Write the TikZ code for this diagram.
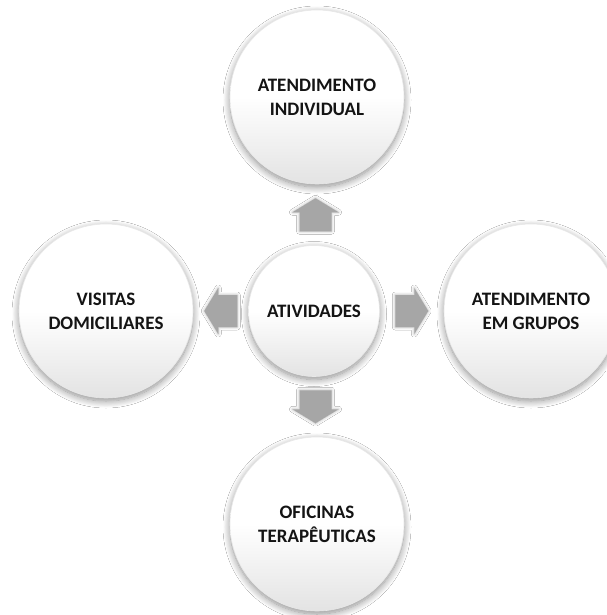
\documentclass[tikz,border=0pt]{standalone}
\usepackage{fontspec}
\setmainfont{Carlito}
\usetikzlibrary{calc,shadows.blur}

\tikzset{
  bubble/.style={
    circle, draw=black!9, line width=0.6pt,
    top color=white, bottom color=black!11, middle color=white,
    shading angle=0,
    blur shadow={shadow blur radius=7pt, shadow xshift=0pt,
                 shadow yshift=-3pt, shadow opacity=45, shadow blur steps=12},
    align=center, text=black!92,
    font=\fontsize{19}{24}\selectfont\bfseries,
    inner sep=0pt
  },
  hub/.style={bubble, minimum size=131pt},
  leaf/.style={bubble, minimum size=174pt},
  arrowfill/.style={fill=black!35,
    blur shadow={shadow blur radius=3pt, shadow xshift=0pt,
                 shadow yshift=0pt, shadow opacity=30, shadow blur steps=6}},
  pics/blockarrow/.style={
    code={
      \fill[arrowfill] (-16.5,-16) -- (2.5,-16) -- (2.5,-23) -- (16.5,0)
        -- (2.5,23) -- (2.5,16) -- (-16.5,16) -- cycle;
    }
  }
}

\begin{document}
\begin{tikzpicture}[x=1pt,y=-1pt]
  \useasboundingbox (0,0) rectangle (606,615);
  \fill[white] (0,0) rectangle (606,615);

  % activity bubbles
  \node[hub]  (center) at (314,311) {ATIVIDADES};
  \node[leaf] (top)    at (317,97)  {ATENDIMENTO\\INDIVIDUAL};
  \node[leaf] (left)   at (106,311) {VISITAS\\DOMICILIARES};
  \node[leaf] (right)  at (531,311) {ATENDIMENTO\\EM GRUPOS};
  \node[leaf] (bottom) at (317,524) {OFICINAS\\TERAPÊUTICAS};

  % block arrows in the gaps between the hub and each bubble
  \coordinate (aup)    at ($(center.north)!0.5!(top.south)$);
  \coordinate (adown)  at ($(center.south)!0.5!(bottom.north)$);
  \coordinate (aleft)  at ($(center.west)!0.5!(left.east)$);
  \coordinate (aright) at ($(center.east)!0.5!(right.west)$);

  \pic[rotate=90]  at (aup)    {blockarrow};
  \pic[rotate=270] at (adown)  {blockarrow};
  \pic[rotate=180] at (aleft)  {blockarrow};
  \pic             at (aright) {blockarrow};
\end{tikzpicture}
\end{document}
